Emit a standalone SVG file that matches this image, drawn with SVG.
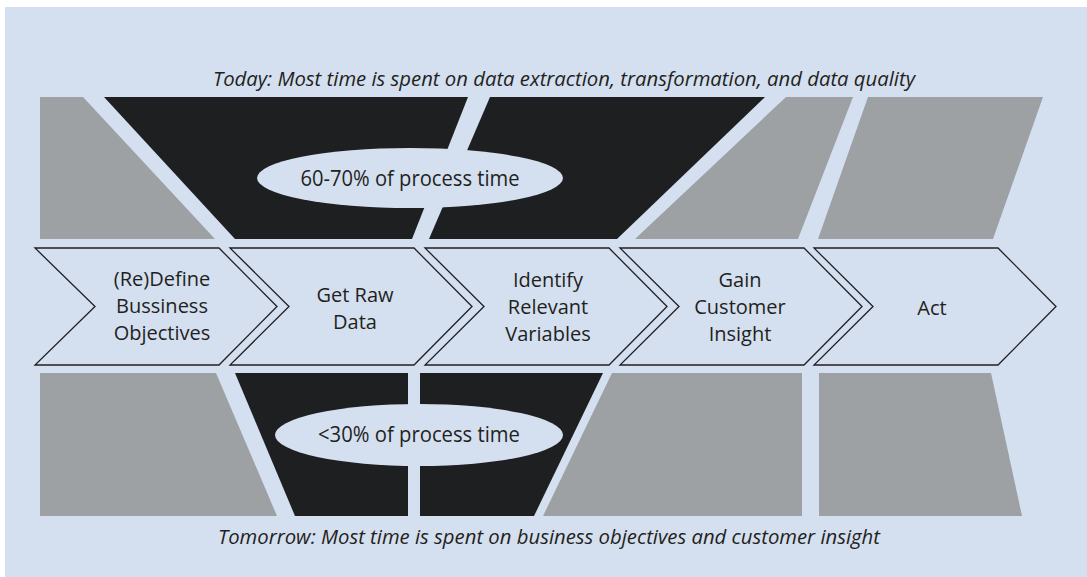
<svg xmlns="http://www.w3.org/2000/svg" width="1087" height="577" viewBox="0 0 1087 577">
<style>
.bg{fill:#D4DFF0}
.gray{fill:#9EA1A4}
.black{fill:#1E1F21}
.chev{fill:#D4DFF0;stroke:#231F20;stroke-width:1.3;stroke-linejoin:miter}
.oval{fill:#D4DFF0}
.lbl{font-family:"Open Sans","Liberation Sans",sans-serif;font-size:20px;fill:#231F20;text-anchor:middle}
.big{font-size:21px}
.cap{font-family:"Open Sans","Liberation Sans",sans-serif;font-size:20px;font-style:italic;fill:#231F20;text-anchor:middle}
</style>
<rect x="0" y="0" width="1087" height="577" fill="#FFFFFF"/>
<rect class="bg" x="5" y="7" width="1082" height="570"/>

<g id="today-band">
<polygon class="gray" points="40,97 83,97 215,239 40,239"/>
<polygon class="black" points="104,97 468,97 412,239 235,239"/>
<polygon class="black" points="490,97 765,97 617,239 429,239"/>
<polygon class="gray" points="786,97 853,97 798,239 635,239"/>
<polygon class="gray" points="868,97 1043,97 993,239 818,239"/>
</g>
<g id="today-oval">
<ellipse class="oval" cx="410" cy="178" rx="153" ry="30"/>
<text class="lbl big" x="410" y="186" textLength="219" lengthAdjust="spacingAndGlyphs">60-70% of process time</text>
</g>
<g id="today-caption">
<text class="cap" x="564" y="86" textLength="702" lengthAdjust="spacingAndGlyphs">Today: Most time is spent on data extraction, transformation, and data quality</text>
</g>

<g id="tomorrow-band">
<polygon class="gray" points="40,373 216,373 277,516 40,516"/>
<polygon class="black" points="235,373 408,373 408,516 295,516"/>
<polygon class="black" points="420,373 603,373 534,516 420,516"/>
<polygon class="gray" points="612,373 802,373 802,516 543,516"/>
<polygon class="gray" points="819,373 991,373 1022,516 819,516"/>
</g>
<g id="tomorrow-oval">
<ellipse class="oval" cx="419" cy="435" rx="144" ry="31"/>
<text class="lbl big" x="419" y="442" textLength="202" lengthAdjust="spacingAndGlyphs">&lt;30% of process time</text>
</g>
<g id="tomorrow-caption">
<text class="cap" x="549" y="544" textLength="662" lengthAdjust="spacingAndGlyphs">Tomorrow: Most time is spent on business objectives and customer insight</text>
</g>

<g id="step1">
<polygon class="chev" points="35,248 219,248 277,306.5 219,365 35,365 95,306.5"/>
<text class="lbl" x="162" y="286">(Re)Define</text>
<text class="lbl" x="162" y="313">Bussiness</text>
<text class="lbl" x="162" y="340">Objectives</text>
</g>
<g id="step2">
<polygon class="chev" points="230,248 414,248 472,306.5 414,365 230,365 289,306.5"/>
<text class="lbl" x="355" y="302">Get Raw</text>
<text class="lbl" x="355" y="329">Data</text>
</g>
<g id="step3">
<polygon class="chev" points="425,248 609,248 667,306.5 609,365 425,365 484,306.5"/>
<text class="lbl" x="548" y="287">Identify</text>
<text class="lbl" x="548" y="314">Relevant</text>
<text class="lbl" x="548" y="341">Variables</text>
</g>
<g id="step4">
<polygon class="chev" points="620,248 804,248 862,306.5 804,365 620,365 679,306.5"/>
<text class="lbl" x="740" y="287">Gain</text>
<text class="lbl" x="740" y="314">Customer</text>
<text class="lbl" x="740" y="341">Insight</text>
</g>
<g id="step5">
<polygon class="chev" points="814,248 998,248 1056,306.5 998,365 814,365 873,306.5"/>
<text class="lbl" x="932" y="315">Act</text>
</g>
<g id="connectors"/>
</svg>
